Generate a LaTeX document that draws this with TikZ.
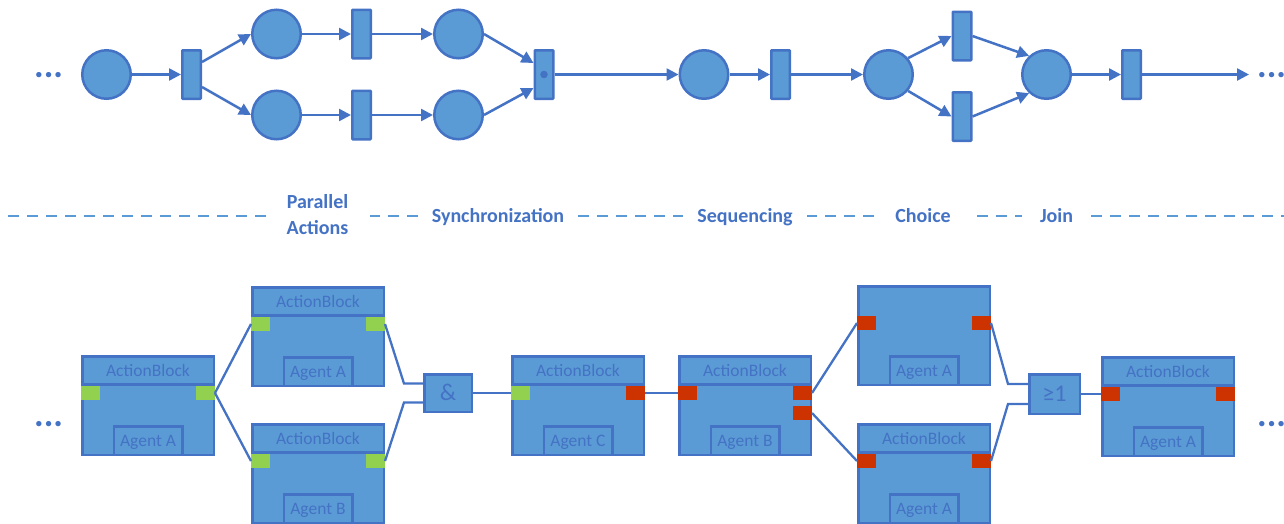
\documentclass[tikz,border=0pt]{standalone}
\usepackage{fontspec}
\setmainfont{Carlito}
\usetikzlibrary{arrows.meta,calc}
\definecolor{fillblue}{HTML}{5B9BD5}
\definecolor{lineblue}{HTML}{4472C4}
\definecolor{portgreen}{HTML}{92D050}
\definecolor{portred}{HTML}{CC3300}

% one block: name, left x, top y, agent text, header flag (1 = with "ActionBlock" header)
\newcommand\actblock[5]{%
  \node[blockbox, anchor=north west] (#1) at (#2,#3) {};
  \ifnum#5=1
    \draw[blockline] ($(#1.north west)+(1.25,29.5)$) -- ($(#1.north east)+(-1.25,29.5)$);
    \node[blocktext] (#1t) at ($(#1.north)+(0,15.5)$) {ActionBlock};
  \fi
  \node[agentbox, anchor=south] (#1a) at (#1.south) {#4};
}
% ports: name, block, colour, vertical offset from the block top
\newcommand\portleft[4]{\node[port, fill=#3, anchor=north west] (#1) at ($(#2.north west)+(0,#4)$) {};}
\newcommand\portright[4]{\node[port, fill=#3, anchor=north east] (#1) at ($(#2.north east)+(0,#4)$) {};}

\begin{document}
\begin{tikzpicture}[x=1pt, y=-1pt,
  place/.style={circle, draw=lineblue, fill=fillblue, line width=2.5pt, minimum size=48.5pt, inner sep=0pt},
  trans/.style={rectangle, draw=lineblue, fill=fillblue, line width=2.5pt, minimum width=18.5pt, minimum height=48.5pt, inner sep=0pt, rounded corners=0.6pt},
  arc/.style={draw=lineblue, line width=2.5pt, -{Triangle[length=12pt,width=12pt]}},
  blockbox/.style={rectangle, draw=lineblue, fill=fillblue, line width=2.5pt, minimum width=131.5pt, minimum height=98.5pt, inner sep=0pt},
  blockline/.style={draw=lineblue, line width=2.5pt},
  blocktext/.style={text=lineblue, font=\fontsize{17.5}{20}\selectfont, text height=11.3pt, text depth=0pt, inner sep=0pt},
  agentbox/.style={rectangle, draw=lineblue, fill=fillblue, line width=2.5pt, minimum width=68.5pt, minimum height=28.5pt, inner sep=0pt, text=lineblue, font=\fontsize{17.5}{20}\selectfont, text height=11.3pt, text depth=0pt},
  port/.style={rectangle, draw=none, minimum width=19pt, minimum height=14pt, inner sep=0pt, outer sep=0pt},
  gate/.style={rectangle, draw=lineblue, fill=fillblue, line width=2.5pt, inner sep=0pt, text=lineblue, font=\fontsize{24}{26}\selectfont, text height=15.5pt, text depth=0pt},
  wire/.style={draw=lineblue, line width=2.3pt},
  sep/.style={draw=fillblue, line width=1.3pt, dash pattern=on 11pt off 8pt},
  phase/.style={fill=white, text=lineblue, font=\bfseries\fontsize{20}{22}\selectfont, text height=12.6pt, text depth=0pt, inner xsep=14pt, inner ysep=2pt},
  dots/.style={text=lineblue, font=\bfseries\fontsize{36}{36}\selectfont, inner sep=0pt}
]
\useasboundingbox (0,0) rectangle (1284,523);

% ---------------- Petri net ----------------
\node[dots, anchor=base west] (ndl) at (34,77.5) {...};
\node[place] (P1) at (106.5,74.5) {};
\node[trans] (T1) at (191.5,74.5) {};
\node[place] (P2) at (276.5,34) {};
\node[place] (P3) at (276.5,115) {};
\node[trans] (T2) at (361.5,34) {};
\node[trans] (T3) at (361.5,115) {};
\node[place] (P4) at (458.5,34) {};
\node[place] (P5) at (458.5,115) {};
\node[trans] (T4) at (544,74.5) {};
\fill[lineblue] (T4.center) circle (3.8pt);
\node[place] (P6) at (704,74.5) {};
\node[trans] (T5) at (780.5,74.5) {};
\node[place] (P7) at (888.5,74.5) {};
\node[trans] (T6) at (962,36) {};
\node[trans] (T7) at (962,116.5) {};
\node[place] (P8) at (1046.5,74.5) {};
\node[trans] (T8) at (1131.5,74.5) {};
\coordinate (Nend) at (1249,74.5);
\node[dots, anchor=base west] (ndr) at (1257,77.5) {...};

\draw[arc] (P1.east) -- (T1.west);
\draw[arc] ($(T1.east)+(0,-12.5)$) -- (P2.west);
\draw[arc] ($(T1.east)+(0,12.5)$) -- (P3.west);
\draw[arc] (P2.east) -- (T2.west);
\draw[arc] (P3.east) -- (T3.west);
\draw[arc] (T2.east) -- (P4.west);
\draw[arc] (T3.east) -- (P5.west);
\draw[arc] (P4.east) -- ($(T4.west)+(0,-11.5)$);
\draw[arc] (P5.east) -- ($(T4.west)+(0,13.5)$);
\draw[arc] (T4.east) -- (P6.west);
\draw[arc] (P6.east) -- (T5.west);
\draw[arc] (T5.east) -- (P7.west);
\draw[arc] (P7.40) -- (T6.west);
\draw[arc] (P7.-40) -- (T7.west);
\draw[arc] (T6.east) -- (P8.133);
\draw[arc] (T7.east) -- (P8.227);
\draw[arc] (P8.east) -- (T8.west);
\draw[arc] (T8.east) -- (Nend);

% ---------------- separator with phase names ----------------
\coordinate (sepL) at (8,216);
\coordinate (sepR) at (1284,216);
\draw[sep] (sepL) -- (sepR);
\node[phase, inner sep=0pt, minimum width=104pt, minimum height=40pt] (lpar) at (317.5,215.5) {};
\node[phase, inner sep=0pt, fill=none] (lpar1) at (317.5,202.5) {Parallel};
\node[phase, inner sep=0pt, fill=none] (lpar2) at (317.5,228.5) {Actions};
\node[phase] (lsync) at (498,216) {Synchronization};
\node[phase] (lseq) at (745,216) {Sequencing};
\node[phase, inner xsep=20pt] (lcho) at (923,216) {Choice};
\node[phase, inner xsep=18pt] (ljoin) at (1056.5,216) {Join};

% ---------------- action blocks ----------------
\node[dots, anchor=base west] (bdl) at (34,426) {...};
\actblock{B1}{81}{355}{Agent A}{1}
\actblock{B2}{251}{286}{Agent A}{1}
\actblock{B3}{251}{423}{Agent B}{1}
\actblock{B4}{511}{355}{Agent C}{1}
\actblock{B5}{678}{355}{Agent B}{1}
\actblock{B6}{857}{285}{Agent A}{0}
\actblock{B7}{857}{423}{Agent A}{1}
\actblock{B8}{1101}{356}{Agent A}{1}
\node[dots, anchor=base west] (bdr) at (1257,426) {...};

\portleft{B1l}{B1}{portgreen}{31}
\portright{B1r}{B1}{portgreen}{31}
\portleft{B2l}{B2}{portgreen}{31}
\portright{B2r}{B2}{portgreen}{31}
\portleft{B3l}{B3}{portgreen}{31}
\portright{B3r}{B3}{portgreen}{31}
\portleft{B4l}{B4}{portgreen}{31}
\portright{B4r}{B4}{portred}{31}
\portleft{B5l}{B5}{portred}{31}
\portright{B5r}{B5}{portred}{31}
\portright{B5x}{B5}{portred}{51}
\portleft{B6l}{B6}{portred}{31}
\portright{B6r}{B6}{portred}{31}
\portleft{B7l}{B7}{portred}{31}
\portright{B7r}{B7}{portred}{31}
\portleft{B8l}{B8}{portred}{31}
\portright{B8r}{B8}{portred}{31}

\node[gate, minimum width=47.5pt, minimum height=37.5pt] (G1) at (448,393) {\&};
\node[gate, minimum width=50.5pt, minimum height=39.5pt] (G2) at (1054.5,394) {≥1};

\draw[wire] (B1r.east) -- (B2l.west);
\draw[wire] (B1r.east) -- (B3l.west);
\draw[wire] (B2r.east) -- ($(G1.west)+(-19,-9.5)$) -- ($(G1.west)+(0,-9.5)$);
\draw[wire] (B3r.east) -- ($(G1.west)+(-19,9.5)$) -- ($(G1.west)+(0,9.5)$);
\draw[wire] (G1.east) -- (B4l.west);
\draw[wire] (B4r.east) -- (B5l.west);
\draw[wire] (B5r.east) -- (B6l.west);
\draw[wire] (B5x.east) -- (B7l.west);
\draw[wire] (B6r.east) -- ($(G2.west)+(-20,-10)$) -- ($(G2.west)+(0,-10)$);
\draw[wire] (B7r.east) -- ($(G2.west)+(-20,10)$) -- ($(G2.west)+(0,10)$);
\draw[wire] (G2.east) -- (B8l.west);
\end{tikzpicture}
\end{document}
